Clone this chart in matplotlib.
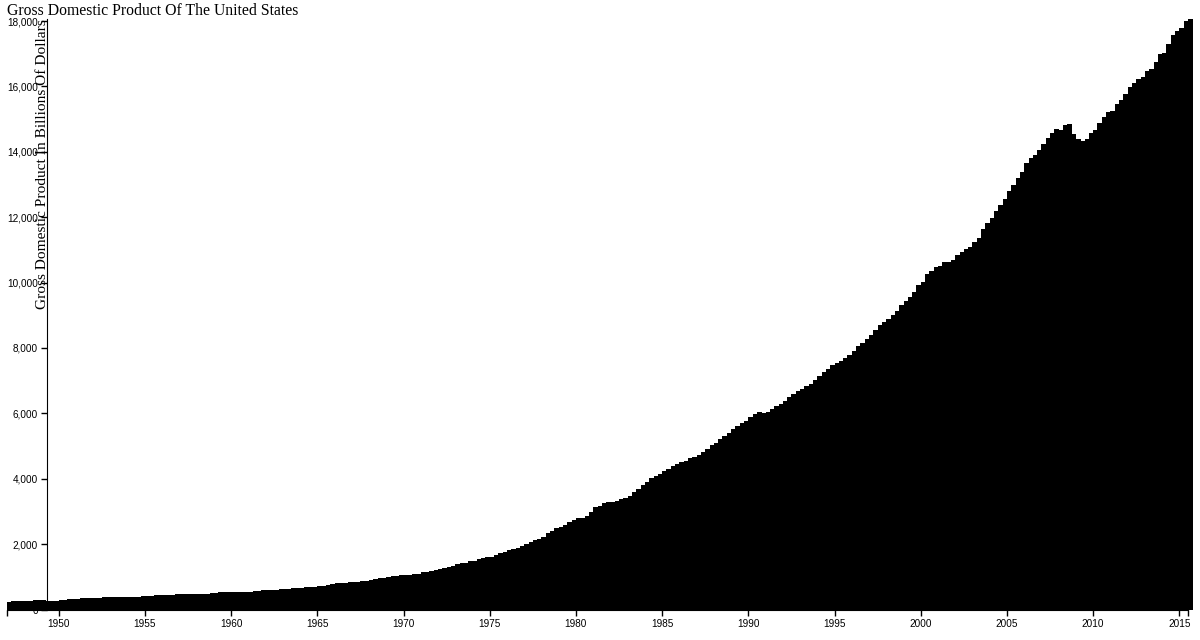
import numpy as np
import matplotlib
matplotlib.use("Agg")
import matplotlib.pyplot as plt
from matplotlib.ticker import FuncFormatter

# quarterly GDP, billions of dollars, 1947 Q1 .. 2015 Q3
first_year = 1947
gdp = [
    243.1, 246.3, 250.1, 260.3, 266.2, 272.9, 279.5, 280.7, 275.4, 271.7, 273.3, 271.0,
    281.2, 290.7, 308.5, 320.3, 336.4, 344.5, 351.8, 356.6, 360.2, 361.4, 368.1, 381.2,
    388.5, 392.3, 391.7, 386.5, 385.9, 386.7, 391.6, 400.3, 413.8, 422.2, 430.9, 437.8,
    440.5, 446.8, 452.0, 461.3, 470.6, 472.8, 480.3, 475.7, 468.4, 472.8, 486.7, 500.4,
    511.1, 524.2, 525.2, 529.3, 543.3, 542.7, 546.0, 541.1, 545.9, 557.4, 568.2, 581.6,
    595.2, 602.6, 609.6, 613.1, 622.7, 631.8, 645.0, 654.8, 671.1, 680.8, 692.8, 698.4,
    719.2, 732.4, 750.2, 773.1, 797.3, 807.2, 820.8, 834.9, 846.0, 851.1, 866.6, 883.2,
    911.1, 936.3, 952.3, 970.1, 995.4, 1011.4, 1032.0, 1040.7, 1053.5, 1070.1, 1088.5, 1091.5,
    1137.8, 1159.4, 1180.3, 1193.6, 1233.8, 1270.1, 1293.8, 1332.0, 1380.7, 1417.6, 1436.8, 1479.1,
    1494.7, 1534.2, 1563.4, 1603.0, 1619.6, 1656.4, 1713.8, 1765.9, 1824.5, 1856.9, 1890.5, 1938.4,
    1992.5, 2060.2, 2122.4, 2168.7, 2208.7, 2336.6, 2398.9, 2482.2, 2531.6, 2595.9, 2670.4, 2730.7,
    2796.5, 2799.9, 2860.0, 2993.5, 3131.8, 3167.3, 3261.2, 3283.5, 3273.8, 3331.3, 3367.1, 3407.8,
    3480.3, 3583.8, 3692.3, 3796.1, 3912.8, 4015.0, 4087.4, 4147.6, 4237.0, 4302.3, 4394.6, 4453.1,
    4516.3, 4555.2, 4619.6, 4669.4, 4736.2, 4821.5, 4900.5, 5022.7, 5090.6, 5207.7, 5299.5, 5412.7,
    5527.4, 5628.4, 5711.6, 5763.4, 5890.8, 5974.7, 6029.5, 6023.3, 6054.9, 6143.6, 6218.4, 6279.3,
    6380.8, 6492.3, 6586.5, 6697.6, 6748.2, 6829.6, 6904.2, 7032.8, 7136.3, 7269.8, 7352.3, 7476.7,
    7545.3, 7604.9, 7706.5, 7799.5, 7893.1, 8061.5, 8159.0, 8287.1, 8402.1, 8551.9, 8691.8, 8788.3,
    8889.7, 8994.7, 9146.5, 9325.7, 9447.1, 9557.0, 9712.3, 9926.1, 10031.0, 10278.3, 10357.4, 10472.3,
    10508.1, 10638.4, 10639.5, 10701.3, 10834.4, 10934.8, 11037.1, 11103.8, 11230.1, 11370.7, 11625.1, 11816.8,
    11988.4, 12181.4, 12367.7, 12562.2, 12813.7, 12974.1, 13205.4, 13381.6, 13648.9, 13799.8, 13908.5, 14066.4,
    14233.2, 14422.3, 14569.7, 14685.3, 14668.4, 14813.0, 14843.0, 14549.9, 14383.9, 14340.4, 14384.1, 14566.5,
    14681.1, 14888.6, 15057.7, 15230.2, 15238.4, 15460.9, 15587.1, 15785.3, 15973.9, 16121.9, 16227.9, 16297.3,
    16475.4, 16541.4, 16749.3, 16999.9, 17025.2, 17285.6, 17569.4, 17692.2, 17783.6, 17998.3, 18064.7,
]
quarters = first_year + np.arange(len(gdp)) * 0.25
x_ticks = list(range(1950, 2016, 5))
y_ticks = list(range(0, 18001, 2000))

serif = "Liberation Serif"
sans = "Liberation Sans"

fig = plt.figure(figsize=(12, 6.4), dpi=100)
ax = fig.add_axes([7 / 1200, 30.5 / 640, 1181 / 1200, 590.5 / 640])

# a bit wider than a quarter so neighbouring bars close up
bars = ax.bar(quarters, gdp, width=0.27, align="edge", color="black",
              linewidth=0)
for b in bars:
    b.set_clip_on(False)

ax.set_xlim(first_year, quarters[-1])
ax.set_ylim(0, max(gdp))

for s in ["top", "right"]:
    ax.spines[s].set_visible(False)
ax.spines["left"].set_position(("axes", 40 / 1181))
ax.spines["left"].set_zorder(0.5)

ax.set_xticks(x_ticks)
ax.set_xticklabels([str(y) for y in x_ticks], fontfamily=sans, fontsize=7.2)
ax.set_xticks([first_year, quarters[-1]], minor=True)
ax.tick_params(axis="x", which="both", length=4.3, width=1, pad=2.2)

ax.set_yticks(y_ticks)
ax.yaxis.set_major_formatter(FuncFormatter(lambda v, p: f"{int(v):,}"))
for lab in ax.get_yticklabels():
    lab.set_fontfamily(sans)
    lab.set_fontsize(7.2)
ax.tick_params(axis="y", length=4.3, width=1, pad=2.2)

fig.text(7 / 1200, 1 - 15 / 640, "Gross Domestic Product Of The United States",
         fontfamily=serif, fontsize=11.3, va="baseline", ha="left")
fig.text(42 / 1200, 1 - 19 / 640, "Gross Domestic Product In Billions Of Dollars",
         fontfamily=serif, fontsize=11.1, rotation=90, va="top", ha="center")

fig.savefig("out.png", dpi=100)
